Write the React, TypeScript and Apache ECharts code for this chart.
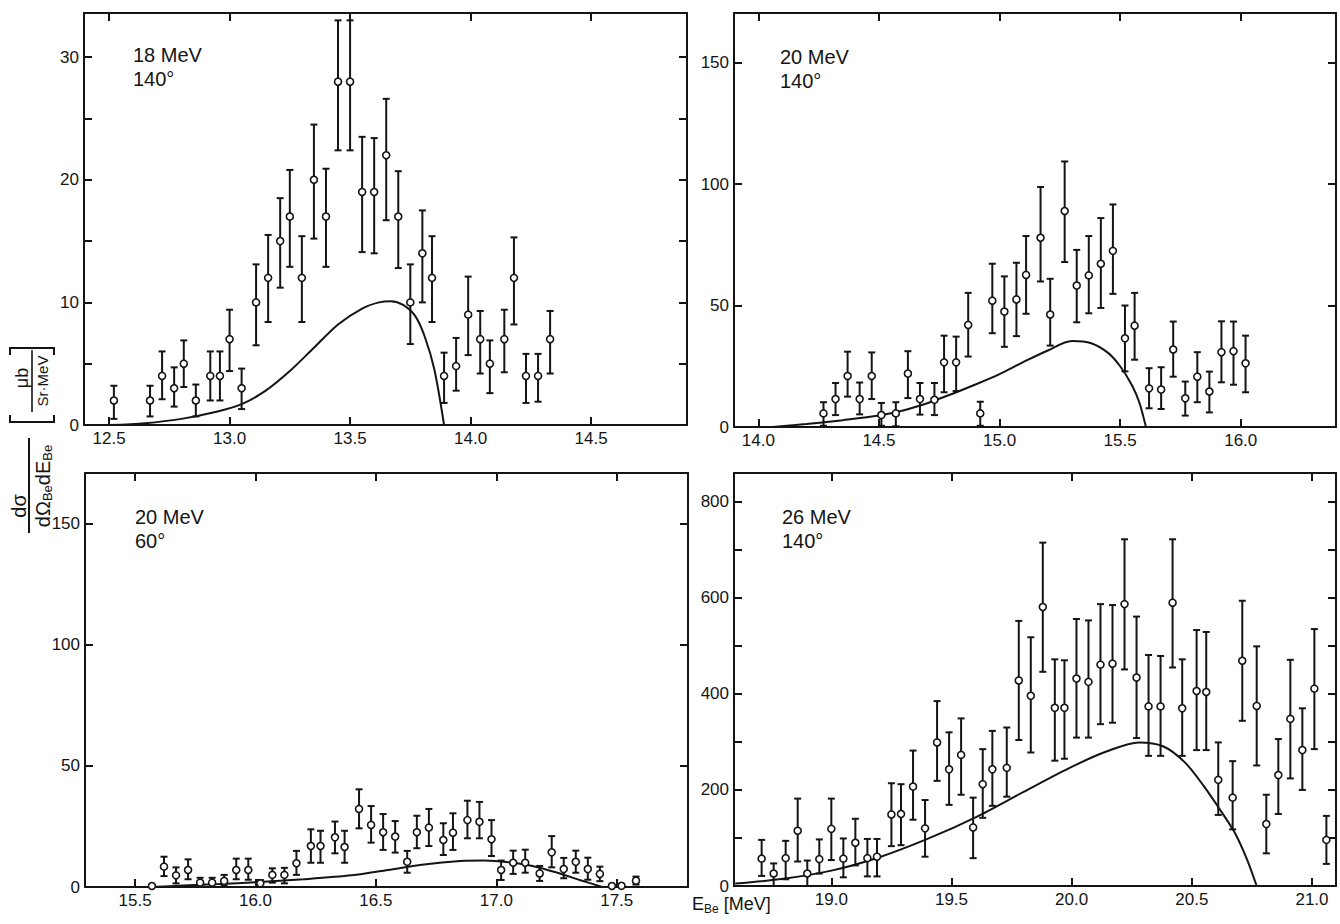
import React, { useEffect, useRef } from 'react';
import * as echarts from 'echarts';

// ---------- Panel 1: 18 MeV, 140° ----------
const p1X = [12.52, 12.67, 12.72, 12.77, 12.81, 12.86, 12.92, 12.96, 13.0, 13.05, 13.11, 13.16, 13.21, 13.25, 13.3, 13.35, 13.4, 13.45, 13.5, 13.55, 13.6, 13.65, 13.7, 13.75, 13.8, 13.84, 13.89, 13.94, 13.99, 14.04, 14.08, 14.14, 14.18, 14.23, 14.28, 14.33];
const p1Y = [2.0, 2.0, 4.0, 3.0, 5.0, 2.0, 4.0, 4.0, 7.0, 3.0, 10.0, 12.0, 15.0, 17.0, 12.0, 20.0, 17.0, 28.0, 28.0, 19.0, 19.0, 22.0, 17.0, 10.0, 14.0, 12.0, 4.0, 4.8, 9.0, 7.0, 5.0, 7.0, 12.0, 4.0, 4.0, 7.0];
const p1Lo = [0.5, 0.7, 2.1, 1.5, 3.1, 0.7, 2.0, 2.0, 4.4, 1.3, 6.5, 8.4, 11.2, 12.9, 8.4, 15.2, 12.9, 22.4, 22.4, 14.1, 14.0, 16.7, 12.8, 6.6, 10.0, 8.4, 1.8, 2.8, 5.7, 4.2, 2.6, 4.3, 8.2, 1.8, 1.9, 4.2];
const p1Hi = [3.2, 3.2, 6.0, 4.7, 6.9, 3.3, 6.0, 6.0, 9.4, 4.6, 13.1, 15.5, 18.5, 20.8, 15.4, 24.5, 20.9, 33.0, 33.0, 23.5, 23.4, 26.6, 20.7, 13.1, 17.5, 15.4, 5.9, 7.1, 12.1, 9.3, 6.9, 9.4, 15.3, 5.8, 5.8, 9.3];
const p1CurveX = [12.5, 12.65, 12.8, 12.95, 13.05, 13.15, 13.25, 13.35, 13.45, 13.55, 13.62, 13.67, 13.72, 13.77, 13.81, 13.85, 13.89];
const p1CurveY = [0, 0.15, 0.5, 1.1, 1.7, 2.8, 4.4, 6.3, 8.2, 9.5, 10.0, 10.1, 9.8, 8.9, 7.2, 4.5, 0];
const p1XTicks = [12.5, 13.0, 13.5, 14.0, 14.5];
const p1YTicks = [0, 5, 10, 15, 20, 25, 30];
const p1YLabels = [0, 10, 20, 30];

// ---------- Panel 2: 20 MeV, 140° ----------
const p2X = [14.27, 14.32, 14.37, 14.42, 14.47, 14.51, 14.57, 14.62, 14.67, 14.73, 14.77, 14.82, 14.87, 14.92, 14.97, 15.02, 15.07, 15.11, 15.17, 15.21, 15.27, 15.32, 15.37, 15.42, 15.47, 15.52, 15.56, 15.62, 15.67, 15.72, 15.77, 15.82, 15.87, 15.92, 15.97, 16.02];
const p2Y = [5.6, 11.5, 21.0, 11.5, 21.0, 4.9, 5.6, 22.0, 11.5, 11.2, 26.6, 26.6, 42.0, 5.6, 52.0, 47.5, 52.5, 62.6, 77.9, 46.3, 88.9, 58.2, 62.4, 67.2, 72.5, 36.5, 41.7, 15.9, 15.4, 31.9, 11.8, 20.7, 14.6, 30.8, 31.2, 26.2];
const p2Lo = [0.5, 4.9, 12.5, 5.2, 11.5, 0.5, 0.3, 11.9, 5.1, 4.9, 14.3, 14.8, 29.0, 0.5, 38.6, 33.0, 37.4, 46.6, 59.9, 33.5, 67.9, 43.1, 46.8, 49.0, 54.8, 22.9, 27.7, 7.7, 7.4, 20.7, 4.7, 10.2, 6.0, 18.4, 17.4, 14.3];
const p2Hi = [10.2, 18.1, 31.0, 18.3, 30.7, 9.9, 10.2, 31.2, 18.1, 18.1, 37.6, 37.2, 55.2, 10.4, 67.2, 62.0, 67.6, 78.6, 98.8, 61.0, 109.3, 72.9, 78.6, 86.0, 91.6, 50.0, 55.2, 24.2, 24.6, 43.4, 18.7, 30.8, 22.8, 43.5, 43.4, 37.6];
const p2CurveX = [14.06, 14.2, 14.35, 14.5, 14.6, 14.7, 14.8, 14.9, 15.0, 15.1, 15.2, 15.3, 15.38, 15.45, 15.5, 15.55, 15.58, 15.607];
const p2CurveY = [0, 1.2, 2.8, 4.7, 6.8, 9.8, 13.5, 17.5, 21.8, 26.8, 31.5, 35.4, 34.5, 30.5, 25.0, 17.0, 10.0, 0];
const p2XTicks = [14.0, 14.5, 15.0, 15.5, 16.0];
const p2YTicks = [0, 50, 100, 150];
const p2YLabels = [0, 50, 100, 150];

// ---------- Panel 3: 20 MeV, 60° ----------
const p3X = [15.57, 15.62, 15.67, 15.72, 15.77, 15.82, 15.87, 15.92, 15.97, 16.02, 16.07, 16.12, 16.17, 16.23, 16.27, 16.33, 16.37, 16.43, 16.48, 16.53, 16.58, 16.63, 16.67, 16.72, 16.78, 16.82, 16.88, 16.93, 16.98, 17.02, 17.07, 17.12, 17.18, 17.23, 17.28, 17.33, 17.38, 17.43, 17.48, 17.52, 17.58];
const p3Y = [0.4, 8.4, 4.8, 7.0, 1.8, 1.8, 2.5, 7.0, 7.0, 1.5, 5.0, 5.0, 9.8, 16.9, 16.9, 20.5, 16.5, 32.2, 25.6, 22.6, 20.8, 10.4, 22.6, 24.5, 19.4, 22.4, 27.6, 26.9, 19.7, 7.0, 10.0, 10.0, 5.6, 14.3, 7.4, 10.4, 7.4, 5.4, 0.4, 0.5, 2.6];
const p3Lo = [0.4, 4.5, 1.5, 3.2, 0, 0, 0.5, 3.2, 3.0, 0, 1.8, 1.5, 5.0, 10.0, 10.0, 13.9, 10.0, 24.2, 18.3, 15.3, 14.2, 5.9, 16.0, 16.9, 13.2, 15.3, 20.1, 20.1, 12.8, 2.9, 5.4, 5.9, 2.5, 8.1, 3.6, 5.9, 3.0, 2.4, 0.4, 0.5, 1.0];
const p3Hi = [0.4, 12.5, 8.1, 11.4, 3.8, 3.8, 5.0, 11.7, 11.7, 2.9, 7.7, 7.9, 14.9, 23.8, 23.2, 27.0, 23.2, 40.3, 33.4, 30.1, 27.2, 14.9, 29.4, 32.2, 26.3, 30.4, 35.6, 35.1, 27.6, 10.9, 15.0, 15.4, 8.7, 21.0, 12.0, 15.0, 12.1, 8.4, 0.4, 0.5, 4.3];
const p3CurveX = [15.57, 15.7, 15.85, 16.0, 16.2, 16.4, 16.55, 16.7, 16.85, 16.95, 17.05, 17.15, 17.25, 17.35, 17.44];
const p3CurveY = [0, 0.6, 1.2, 2.0, 3.2, 4.8, 7.0, 9.3, 10.7, 10.9, 10.2, 8.7, 6.0, 2.8, 0];
const p3XTicks = [15.5, 16.0, 16.5, 17.0, 17.5];
const p3YTicks = [0, 50, 100, 150];
const p3YLabels = [0, 50, 100, 150];

// ---------- Panel 4: 26 MeV, 140° ----------
const p4X = [18.71, 18.76, 18.81, 18.86, 18.9, 18.95, 19.0, 19.05, 19.1, 19.15, 19.19, 19.25, 19.29, 19.34, 19.39, 19.44, 19.49, 19.54, 19.59, 19.63, 19.67, 19.73, 19.78, 19.83, 19.88, 19.93, 19.97, 20.02, 20.07, 20.12, 20.17, 20.22, 20.27, 20.32, 20.37, 20.42, 20.46, 20.52, 20.56, 20.61, 20.67, 20.71, 20.77, 20.81, 20.86, 20.91, 20.96, 21.01, 21.06];
const p4Y = [57, 26, 58, 115, 26, 56, 119, 57, 90, 58, 61, 149, 150, 207, 120, 299, 243, 273, 122, 212, 243, 246, 428, 396, 581, 371, 371, 432, 425, 461, 463, 587, 434, 374, 374, 590, 370, 406, 404, 221, 184, 469, 375, 129, 231, 348, 283, 411, 96];
const p4Lo = [21, 0, 14, 51, 0, 26, 54, 18, 43, 20, 20, 83, 85, 138, 61, 219, 169, 190, 58, 142, 167, 186, 304, 278, 446, 261, 265, 309, 309, 337, 340, 451, 308, 271, 271, 455, 271, 283, 283, 148, 118, 344, 251, 68, 150, 224, 200, 285, 46];
const p4Hi = [96, 47, 94, 182, 53, 97, 182, 99, 140, 98, 98, 214, 212, 282, 179, 385, 320, 349, 184, 285, 323, 330, 552, 518, 715, 472, 470, 556, 553, 587, 585, 722, 561, 481, 479, 722, 472, 533, 529, 299, 260, 594, 499, 190, 306, 471, 370, 535, 146];
const p4CurveX = [18.6, 18.8, 19.0, 19.2, 19.4, 19.6, 19.8, 20.0, 20.15, 20.28, 20.38, 20.47, 20.55, 20.62, 20.68, 20.73, 20.77];
const p4CurveY = [5, 15, 32, 60, 98, 143, 196, 248, 281, 299, 291, 258, 208, 157, 110, 55, 0];
const p4XTicks = [19.0, 19.5, 20.0, 20.5, 21.0];
const p4YTicks = [0, 100, 200, 300, 400, 500, 600, 700, 800];
const p4YLabels = [0, 200, 400, 600, 800];

const panelTitles = ['18 MeV\n140°', '20 MeV\n140°', '20 MeV\n60°', '26 MeV\n140°'];

const INK = '#141414';
const FONT = 'Liberation Sans';

const panels = [
  { x: p1X, y: p1Y, lo: p1Lo, hi: p1Hi, cx: p1CurveX, cy: p1CurveY, xT: p1XTicks, yT: p1YTicks, yL: p1YLabels,
    xMin: 12.396, xMax: 14.898, yMax: 33.6, grid: { left: 84, top: 13, width: 603, height: 412 }, tpos: [133, 43] },
  { x: p2X, y: p2Y, lo: p2Lo, hi: p2Hi, cx: p2CurveX, cy: p2CurveY, xT: p2XTicks, yT: p2YTicks, yL: p2YLabels,
    xMin: 13.899, xMax: 16.395, yMax: 170.4, grid: { left: 734, top: 13, width: 602, height: 414 }, tpos: [780, 45] },
  { x: p3X, y: p3Y, lo: p3Lo, hi: p3Hi, cx: p3CurveX, cy: p3CurveY, xT: p3XTicks, yT: p3YTicks, yL: p3YLabels,
    xMin: 15.292, xMax: 17.796, yMax: 170.8, grid: { left: 85, top: 473, width: 603, height: 414 }, tpos: [135, 505] },
  { x: p4X, y: p4Y, lo: p4Lo, hi: p4Hi, cx: p4CurveX, cy: p4CurveY, xT: p4XTicks, yT: p4YTicks, yL: p4YLabels,
    xMin: 18.595, xMax: 21.1, yMax: 860, grid: { left: 734, top: 473, width: 602, height: 413 }, tpos: [782, 505] },
];

function buildOption() {
  const lineStyle = { color: INK, width: 2 };
  const grid: any[] = [];
  const xAxis: any[] = [];
  const yAxis: any[] = [];
  const series: any[] = [];
  const graphic: any[] = [];

  panels.forEach((p, i) => {
    grid.push({ ...p.grid, show: false, containLabel: false });
    const xBase = {
      type: 'value', gridIndex: i, min: p.xMin, max: p.xMax,
      axisLine: { show: true, onZero: false, lineStyle },
      axisTick: { show: true, inside: true, length: 8, customValues: p.xT, lineStyle },
      splitLine: { show: false },
    };
    xAxis.push({
      ...xBase, position: 'bottom',
      axisLabel: { show: true, customValues: p.xT, formatter: (v: number) => v.toFixed(1), margin: 5,
        fontSize: 17, color: INK, fontFamily: FONT },
    });
    xAxis.push({ ...xBase, position: 'top', axisLabel: { show: false } });
    const yBase = {
      type: 'value', gridIndex: i, min: 0, max: p.yMax,
      axisLine: { show: true, onZero: false, lineStyle },
      axisTick: { show: true, inside: true, length: 8, customValues: p.yT, lineStyle },
      splitLine: { show: false },
    };
    yAxis.push({
      ...yBase, position: 'left',
      axisLabel: { show: true, customValues: p.yL, margin: 5, fontSize: 17, color: INK, fontFamily: FONT },
    });
    yAxis.push({ ...yBase, position: 'right', axisLabel: { show: false } });

    const errData = p.x.map((xv, k) => [xv, p.lo[k], p.hi[k]]);
    series.push({
      type: 'custom', xAxisIndex: 2 * i, yAxisIndex: 2 * i, z: 3,
      data: errData,
      encode: { x: 0, y: [1, 2] },
      renderItem: (params: any, api: any) => {
        const xv = api.value(0);
        const a = api.coord([xv, api.value(1)]);
        const b = api.coord([xv, api.value(2)]);
        const w = 3.5;
        const st = { stroke: INK, lineWidth: 2 };
        return {
          type: 'group',
          children: [
            { type: 'line', shape: { x1: a[0], y1: a[1], x2: b[0], y2: b[1] }, style: st },
            { type: 'line', shape: { x1: a[0] - w, y1: a[1], x2: a[0] + w, y2: a[1] }, style: st },
            { type: 'line', shape: { x1: b[0] - w, y1: b[1], x2: b[0] + w, y2: b[1] }, style: st },
          ],
        };
      },
    });
    series.push({
      type: 'scatter', xAxisIndex: 2 * i, yAxisIndex: 2 * i, z: 5,
      data: p.x.map((xv, k) => [xv, p.y[k]]),
      symbol: 'circle', symbolSize: 7,
      itemStyle: { color: '#fff', borderColor: INK, borderWidth: 1.6, opacity: 1 },
      emphasis: { disabled: true },
    });
    series.push({
      type: 'line', xAxisIndex: 2 * i, yAxisIndex: 2 * i, z: 4,
      data: p.cx.map((xv, k) => [xv, p.cy[k]]),
      showSymbol: false, symbol: 'none', smooth: 0.3,
      lineStyle: { color: INK, width: 2 },
    });

    graphic.push({
      type: 'text', left: p.tpos[0], top: p.tpos[1],
      style: { text: panelTitles[i], font: `20px "${FONT}"`, lineHeight: 24, fill: INK },
    });
  });

  // rotated y-axis title
  const tStyle = (text: string, size: number, extra: any = {}) => ({
    text, font: `${size}px "${FONT}"`, fill: INK, ...extra,
  });
  graphic.push({
    type: 'group', x: 12, y: 536, rotation: Math.PI / 2,
    children: [
      { type: 'text', x: 30, y: -3, style: tStyle('dσ', 20, { align: 'center', verticalAlign: 'top' }) },
      { type: 'line', shape: { x1: 3, y1: 17, x2: 98, y2: 17 }, style: { stroke: INK, lineWidth: 2 } },
      {
        type: 'text', x: 50, y: 19,
        style: {
          text: 'dΩ{s|Be}dE{s|Be}', font: `20px "${FONT}"`, fill: INK, align: 'center', verticalAlign: 'top',
          rich: { s: { fontSize: 13, fontFamily: FONT, fill: INK, padding: [10, 0, 0, 0] } },
        },
      },
      { type: 'polyline', shape: { points: [[121, -2], [114, -2], [114, 42], [121, 42]] }, style: { stroke: INK, lineWidth: 2, fill: 'none' } },
      { type: 'polyline', shape: { points: [[181, -2], [188, -2], [188, 42], [181, 42]] }, style: { stroke: INK, lineWidth: 2, fill: 'none' } },
      { type: 'text', x: 158, y: 1, style: tStyle('μb', 18, { align: 'center', verticalAlign: 'top' }) },
      { type: 'line', shape: { x1: 124, y1: 20, x2: 186, y2: 20 }, style: { stroke: INK, lineWidth: 1.6 } },
      { type: 'text', x: 155, y: 23, style: tStyle('Sr·MeV', 15, { align: 'center', verticalAlign: 'top' }) },
    ],
  });

  // x-axis title
  graphic.push({
    type: 'text', left: 692, top: 895,
    style: {
      text: 'E{s|Be} [MeV]', font: `18px "${FONT}"`, fill: INK,
      rich: { s: { fontSize: 12, fontFamily: FONT, fill: INK, padding: [9, 0, 0, 0] } },
    },
  });

  return {
    animation: false,
    backgroundColor: '#fff',
    grid, xAxis, yAxis, series, graphic,
  };
}

export default function App() {
  const ref = useRef<HTMLDivElement>(null);
  useEffect(() => {
    if (!ref.current) return;
    const chart = echarts.init(ref.current, null, { renderer: 'svg' });
    chart.setOption(buildOption() as any);
    return () => chart.dispose();
  }, []);
  return (
    <div
      ref={ref}
      style={{ position: 'absolute', left: 0, top: 0, width: 1340, height: 924, background: '#fff' }}
    />
  );
}
